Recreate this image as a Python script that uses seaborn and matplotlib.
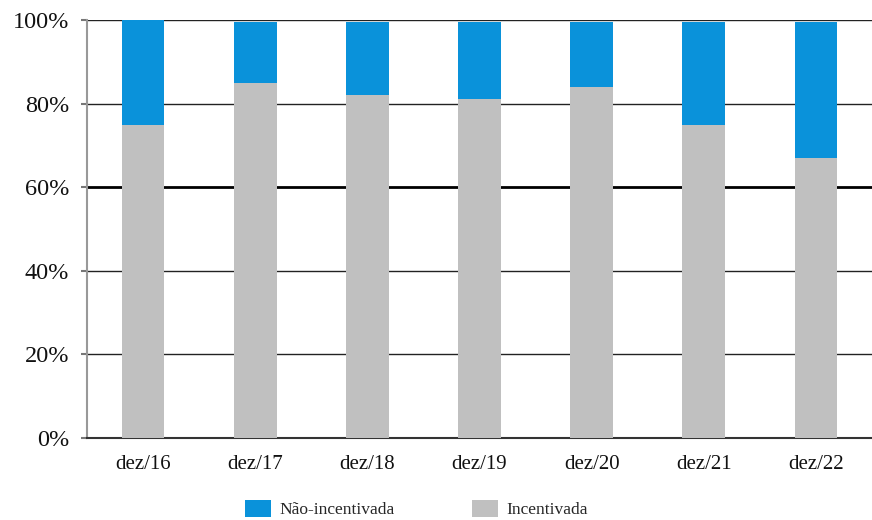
import matplotlib
matplotlib.use("Agg")
import matplotlib.pyplot as plt
import seaborn as sns
import pandas as pd
import numpy as np
from matplotlib.patches import Patch

categories = ["dez/16", "dez/17", "dez/18", "dez/19", "dez/20", "dez/21", "dez/22"]
incentivada = [75, 85, 82, 81, 84, 75, 67]
nao_incentivada = [25, 14.5, 17.5, 18.5, 15.5, 24.5, 32.5]
yticks = [0, 20, 40, 60, 80, 100]
ytick_labels = ["0%", "20%", "40%", "60%", "80%", "100%"]

blue = "#0A92DA"
gray = "#C0C0C0"

sns.set_theme(style="white")
plt.rcParams["font.family"] = ["Liberation Serif", "DejaVu Serif"]

df = pd.DataFrame({
    "cat": categories,
    "inc": incentivada,
    "total": [a + b for a, b in zip(incentivada, nao_incentivada)],
})

fig = plt.figure(figsize=(8.72, 5.2), dpi=100)
ax = fig.add_axes([87/872, 1 - 438/520, 1 - 87/872, (438 - 20)/520])

for y in [20, 40, 80, 100]:
    ax.axhline(y, color="#222222", lw=1.0, zorder=0)
ax.axhline(60, color="#000000", lw=2.0, zorder=0)

sns.barplot(data=df, x="cat", y="total", color=blue, width=0.38, saturation=1,
            ax=ax, zorder=2, linewidth=0, edgecolor="none")
sns.barplot(data=df, x="cat", y="inc", color=gray, width=0.38, saturation=1,
            ax=ax, zorder=3, linewidth=0, edgecolor="none")

ax.set_xlim(-0.5, len(categories) - 0.5)
ax.set_ylim(0, 100)
ax.set_yticks(yticks)
ax.set_yticklabels(ytick_labels, fontsize=17.5, color="#111111")
ax.set_xticks(range(len(categories)))
ax.set_xticklabels(categories, fontsize=15, color="#111111")
ax.set_xlabel("")
ax.set_ylabel("")
ax.tick_params(axis="x", length=0, pad=12)
ax.set_xticks(np.arange(0.5, len(categories) - 0.5, 1), minor=True)
ax.tick_params(axis="x", which="minor", length=5, color="#888888", width=1, direction="out")
ax.tick_params(axis="y", length=4, color="#777777", width=1.5, pad=9, direction="out", left=True)

for s in ["top", "right"]:
    ax.spines[s].set_visible(False)
ax.spines["left"].set_color("#999999")
ax.spines["left"].set_linewidth(1.5)
ax.spines["bottom"].set_color("#333333")
ax.spines["bottom"].set_linewidth(1.5)

handles = [Patch(facecolor=blue, edgecolor="none", label="Não-incentivada"),
           Patch(facecolor=gray, edgecolor="none", label="Incentivada")]
fig.legend(handles=handles, loc="center left", bbox_to_anchor=(233/872, 1 - 509/520),
           ncol=2, frameon=False, fontsize=12.5, handlelength=1.5, handleheight=1.1,
           columnspacing=4.5, handletextpad=0.45, borderpad=0.2)

fig.savefig("out.png", dpi=100)
